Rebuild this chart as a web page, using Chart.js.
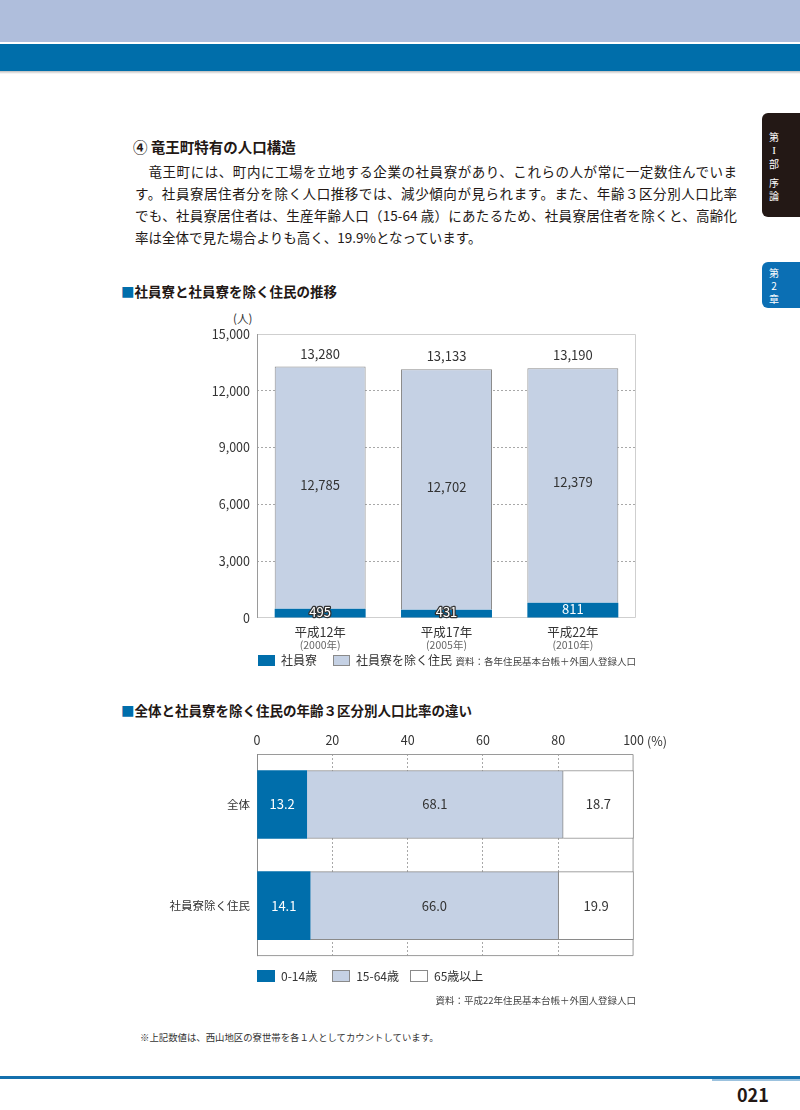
<!DOCTYPE html>
<html lang="ja">
<head>
<meta charset="utf-8">
<script src="https://cdn.jsdelivr.net/npm/chart.js@4.4.1/dist/chart.umd.min.js"></script>
<style>
body{margin:0;width:800px;height:1110px;position:relative;background:#fff;overflow:hidden;
  font-family:"Noto Sans CJK JP","Noto Sans",sans-serif;color:#231815}
.a{position:absolute;white-space:nowrap}
.line{position:absolute;left:135px;width:602px;font-size:13.5px;line-height:22px;
  text-align:justify;text-align-last:justify;white-space:nowrap}
.sq{color:#006eab}
.title{font-size:13.5px;font-weight:700;line-height:20px}
.box{display:inline-block;width:17px;height:11px;vertical-align:-1px;margin-right:6px;box-sizing:border-box}
.tab{position:absolute;left:762px;width:40px;border-radius:6px 0 0 6px;color:#fff;font-size:10px;line-height:13px;text-align:center;box-sizing:border-box;padding-right:16px}
canvas{position:absolute}
</style>
</head>
<body>
<!-- page header -->
<div class="a" style="left:0;top:0;width:800px;height:42px;background:#afbedc"></div>
<div class="a" style="left:0;top:44px;width:800px;height:27px;background:#006eaa"></div>
<div class="a" style="left:0;top:71px;width:800px;height:3px;background:linear-gradient(#bdbdbd,#fff)"></div>

<div class="tab" style="top:113px;height:104px;background:#231815;padding-top:17px">第<br><span style="font-family:'Liberation Serif',serif;font-size:11px">I</span><br>部<br><div style="height:6px"></div>序<br>論</div>
<div class="tab" style="top:262px;height:46px;background:#0b6fb4;padding-top:4px">第<br>2<br>章</div>

<div class="a" style="left:133px;top:137px;font-size:14.5px;font-weight:700;line-height:20px">④ 竜王町特有の人口構造</div>
<div class="line" style="top:160px;text-indent:1em;width:602px">竜王町には、町内に工場を立地する企業の社員寮があり、これらの人が常に一定数住んでいま</div>
<div class="line" style="top:182px">す。社員寮居住者分を除く人口推移では、減少傾向が見られます。また、年齢３区分別人口比率</div>
<div class="line" style="top:204px">でも、社員寮居住者は、生産年齢人口（15-64 歳）にあたるため、社員寮居住者を除くと、高齢化</div>
<div class="line" style="top:226px;text-align-last:left">率は全体で見た場合よりも高く、19.9%となっています。</div>

<div class="a title" style="left:121px;top:281px"><span class="sq">■</span>社員寮と社員寮を除く住民の推移</div>
<div class="a" style="left:233px;top:310px;font-size:11.5px;color:#333">(人)</div>
<canvas id="c1" width="460" height="345" style="left:190px;top:310px"></canvas>
<div class="a" style="left:258px;top:652px;font-size:12px;line-height:16px;color:#333">
  <span class="box" style="background:#006eab"></span>社員寮<span style="display:inline-block;width:16px"></span><span class="box" style="background:#c5d1e4;border:1px solid #8a8a8a"></span>社員寮を除く住民</div>
<div class="a" style="right:164px;top:654px;font-size:9.5px;line-height:14px;color:#444">資料：各年住民基本台帳＋外国人登録人口</div>

<div class="a title" style="left:121px;top:700px"><span class="sq">■</span>全体と社員寮を除く住民の年齢３区分別人口比率の違い</div>
<canvas id="c2" width="500" height="245" style="left:150px;top:725px"></canvas>
<div class="a" style="left:647px;top:733px;font-size:12.5px;line-height:16px;color:#333">(%)</div>
<div class="a" style="left:257px;top:968px;font-size:12px;line-height:16px;color:#333">
  <span class="box" style="width:18px;height:12px;background:#006eab"></span>0-14歳<span style="display:inline-block;width:15px"></span><span class="box" style="width:18px;height:12px;background:#c5d1e4;border:1px solid #8a8a8a"></span>15-64歳<span style="display:inline-block;width:11px"></span><span class="box" style="width:18px;height:12px;background:#fff;border:1px solid #8a8a8a"></span>65歳以上</div>
<div class="a" style="right:164px;top:993px;font-size:9.5px;line-height:14px;color:#444">資料：平成22年住民基本台帳＋外国人登録人口</div>

<div class="a" style="left:140px;top:1030px;font-size:9.4px;line-height:14px;color:#333">※上記数値は、西山地区の寮世帯を各１人としてカウントしています。</div>

<div class="a" style="left:0;top:1076px;width:800px;height:3px;background:#1470ad"></div>
<div class="a" style="left:712px;top:1079px;width:88px;height:2px;background:#9cc2de"></div>
<div class="a" style="left:737px;top:1082px;font-size:18px;font-weight:700;line-height:24px;color:#231815">021</div>

<script>
var years = ["平成12年", "平成17年", "平成22年"];
var westYears = ["(2000年)", "(2005年)", "(2010年)"];
var dorm = [495, 431, 811];
var others = [12785, 12702, 12379];
var yTicks = [0, 3000, 6000, 9000, 12000, 15000];

var groups = ["全体", "社員寮除く住民"];
var age0 = [13.2, 14.1];
var age15 = [68.1, 66.0];
var age65 = [18.7, 19.9];
var xTicks = [0, 20, 40, 60, 80, 100];

var FONT = '"Noto Sans CJK JP", sans-serif';
var dark = '#006eab', light = '#c5d1e4', edge = '#8a8a8a';

function fmt(v){ return v.toLocaleString('en-US'); }

// plot frame, drawn from the chart area
var frame = {
  id: 'frame',
  beforeDatasetsDraw: function(chart, args, opts){
    var a = chart.chartArea, ctx = chart.ctx;
    ctx.save();
    ctx.lineWidth = 1;
    ctx.strokeStyle = opts.other;
    ctx.beginPath();
    ctx.moveTo(a.left, a.top + 0.5); ctx.lineTo(a.right - 0.5, a.top + 0.5);
    ctx.lineTo(a.right - 0.5, a.bottom - 0.5); ctx.lineTo(a.left, a.bottom - 0.5);
    ctx.stroke();
    ctx.strokeStyle = opts.left;
    ctx.beginPath();
    ctx.moveTo(a.left + 0.5, a.top); ctx.lineTo(a.left + 0.5, a.bottom);
    ctx.stroke();
    ctx.restore();
  }
};

var labels1 = {
  id: 'labels1',
  afterDatasetsDraw: function(chart){
    var ctx = chart.ctx;
    var m0 = chart.getDatasetMeta(0), m1 = chart.getDatasetMeta(1);
    var xs = chart.scales.x;
    ctx.save();
    ctx.textAlign = 'center';
    ctx.textBaseline = 'middle';
    ctx.font = '13px ' + FONT;
    m1.data.forEach(function(bar, i){
      ctx.fillStyle = '#333';
      ctx.fillText(fmt(dorm[i] + others[i]), bar.x, bar.y - 13);
      ctx.fillText(fmt(others[i]), bar.x, (bar.y + bar.base) / 2 - 3);
    });
    m0.data.forEach(function(bar, i){
      var y = (bar.y + bar.base) / 2 - 1.5;
      if (bar.base - bar.y < 13) {
        ctx.lineWidth = 2.5; ctx.lineJoin = 'round'; ctx.strokeStyle = '#333';
        ctx.strokeText(fmt(dorm[i]), bar.x, y);
      }
      ctx.fillStyle = '#fff';
      ctx.fillText(fmt(dorm[i]), bar.x, y);
    });
    // category labels under the axis
    years.forEach(function(t, i){
      var x = xs.getPixelForValue(i);
      ctx.fillStyle = '#333';
      ctx.font = '12.5px ' + FONT;
      ctx.fillText(t, x, xs.top + 14);
      ctx.fillStyle = '#666';
      ctx.font = '10.5px ' + FONT;
      ctx.fillText(westYears[i], x, xs.top + 27);
    });
    ctx.restore();
  }
};

var labels2 = {
  id: 'labels2',
  afterDatasetsDraw: function(chart){
    var ctx = chart.ctx;
    ctx.save();
    ctx.textAlign = 'center';
    ctx.textBaseline = 'middle';
    ctx.font = '13px ' + FONT;
    [age0, age15, age65].forEach(function(arr, d){
      chart.getDatasetMeta(d).data.forEach(function(bar, i){
        ctx.fillStyle = d === 0 ? '#fff' : '#333';
        ctx.fillText(arr[i].toFixed(1), (bar.x + bar.base) / 2, bar.y);
      });
    });
    ctx.restore();
  }
};

function gridColor(max){
  return function(c){
    if (!c.tick) return 'rgba(0,0,0,0)';
    return (c.tick.value === 0 || c.tick.value === max) ? 'rgba(0,0,0,0)' : '#a8a8a8';
  };
}

new Chart(document.getElementById('c1'), {
  type: 'bar',
  data: {
    labels: years,
    datasets: [
      { label: '社員寮', data: dorm, backgroundColor: dark, borderWidth: 0,
        barPercentage: 0.72, categoryPercentage: 1 },
      { label: '社員寮を除く住民', data: others, backgroundColor: light, borderColor: edge, borderWidth: 1,
        barPercentage: 0.72, categoryPercentage: 1 }
    ]
  },
  options: {
    responsive: false,
    animation: false,
    layout: { padding: { top: 24, right: 14, left: 0, bottom: 0 } },
    plugins: { legend: { display: false }, tooltip: { enabled: false },
      frame: { left: '#9a9a9a', other: '#cfcfcf' } },
    scales: {
      x: { stacked: true, grid: { display: false }, border: { display: false },
        ticks: { display: false }, afterFit: function(s){ s.height = 37; } },
      y: { stacked: true, min: 0, max: 15000,
        afterBuildTicks: function(s){ s.ticks = yTicks.map(function(v){ return { value: v }; }); },
        ticks: { callback: function(v){ return fmt(v); }, font: { size: 12.5, family: FONT }, color: '#333', padding: 7 },
        grid: { color: gridColor(15000), drawTicks: false },
        border: { display: false, dash: [2, 2] },
        afterFit: function(s){ s.width = 67; } }
    }
  },
  plugins: [frame, labels1]
});

new Chart(document.getElementById('c2'), {
  type: 'bar',
  data: {
    labels: groups,
    datasets: [
      { label: '0-14歳', data: age0, backgroundColor: dark, borderWidth: 0 },
      { label: '15-64歳', data: age15, backgroundColor: light, borderColor: edge, borderWidth: 1 },
      { label: '65歳以上', data: age65, backgroundColor: '#fff', borderColor: edge, borderWidth: 1 }
    ]
  },
  options: {
    indexAxis: 'y',
    responsive: false,
    animation: false,
    datasets: { bar: { barThickness: 68, categoryPercentage: 1 } },
    layout: { padding: { top: 0, right: 15, left: 0, bottom: 8 } },
    plugins: { legend: { display: false }, tooltip: { enabled: false },
      frame: { left: '#8a8a8a', other: '#9a9a9a' } },
    scales: {
      x: { position: 'top', stacked: true, min: 0, max: 100,
        afterBuildTicks: function(s){ s.ticks = xTicks.map(function(v){ return { value: v }; }); },
        ticks: { font: { size: 12.5, family: FONT }, color: '#333', padding: 6, maxRotation: 0 },
        grid: { color: gridColor(100), drawTicks: false },
        border: { display: false, dash: [2, 2] },
        afterFit: function(s){ s.height = 29; } },
      y: { stacked: true, grid: { display: false, drawTicks: false }, border: { display: false },
        ticks: { font: { size: 11.5, family: FONT }, color: '#333', padding: 7 },
        afterFit: function(s){ s.width = 107; } }
    }
  },
  plugins: [frame, labels2]
});
</script>
</body>
</html>
